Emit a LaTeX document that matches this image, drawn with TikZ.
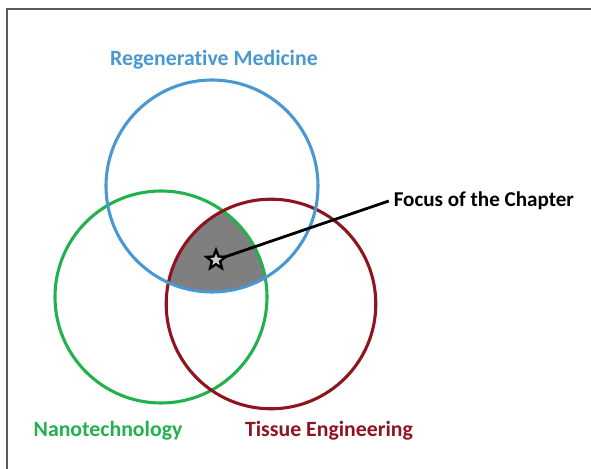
\documentclass[tikz,border=0pt]{standalone}
\usepackage{fontspec}
\setmainfont{Carlito}[Ligatures=NoCommon]
\usepackage{tikz}
\usetikzlibrary{shapes.geometric}
\definecolor{frame}{HTML}{5A5A5A}
\definecolor{regen}{HTML}{4A98D2}
\definecolor{nano}{HTML}{22B14C}
\definecolor{tissue}{HTML}{8E1520}
\definecolor{core}{HTML}{7F7F7F}
\tikzset{
  setcircle/.style={line width=2.2pt},
  lab/.style={font=\fontsize{15.5}{18}\selectfont\bfseries},
  focusstar/.style={star, star points=5, star point ratio=2.3, minimum size=0.5cm,
    inner sep=0pt, draw=black, line width=1.7pt, fill=core!40}
}

\begin{document}
\begin{tikzpicture}
  \useasboundingbox (0,0) rectangle (14.775,11.725);
  \begin{scope}
    \clip (0,0) rectangle (14.775,11.725);
    \draw[frame, line width=1.5pt] (0.175,-1) rectangle (16,11.5);
  \end{scope}

  \def\rA{2.65}
  \def\rB{2.65}
  \def\rC{2.62}
  \coordinate (A) at (5.30,7.075);
  \coordinate (B) at (4.025,4.30);
  \coordinate (C) at (6.775,4.125);

  % common part of the three sets
  \begin{scope}
    \clip (A) circle (\rA);
    \clip (B) circle (\rB);
    \fill[core] (C) circle (\rC);
  \end{scope}

  \draw[setcircle, nano] (B) circle (\rB);
  \draw[setcircle, tissue] (C) circle (\rC);
  \draw[setcircle, regen] (A) circle (\rA);

  \node[lab, text=regen] (regenlab) at (5.35,10.225) {Regenerative Medicine};
  \node[lab, text=nano] (nanolab) at (2.70,0.95) {Nanotechnology};
  \node[lab, text=tissue] (tissuelab) at (8.225,0.95) {Tissue Engineering};

  \node[lab, anchor=west, font=\fontsize{15}{18}\selectfont\bfseries] (focus) at (9.72,6.70) {Focus of the Chapter};
  \coordinate (starpt) at (5.40,5.225);
  \draw[line width=2pt] (starpt) -- (focus.west);
  \node[focusstar] (star) at (starpt) {};
\end{tikzpicture}
\end{document}
